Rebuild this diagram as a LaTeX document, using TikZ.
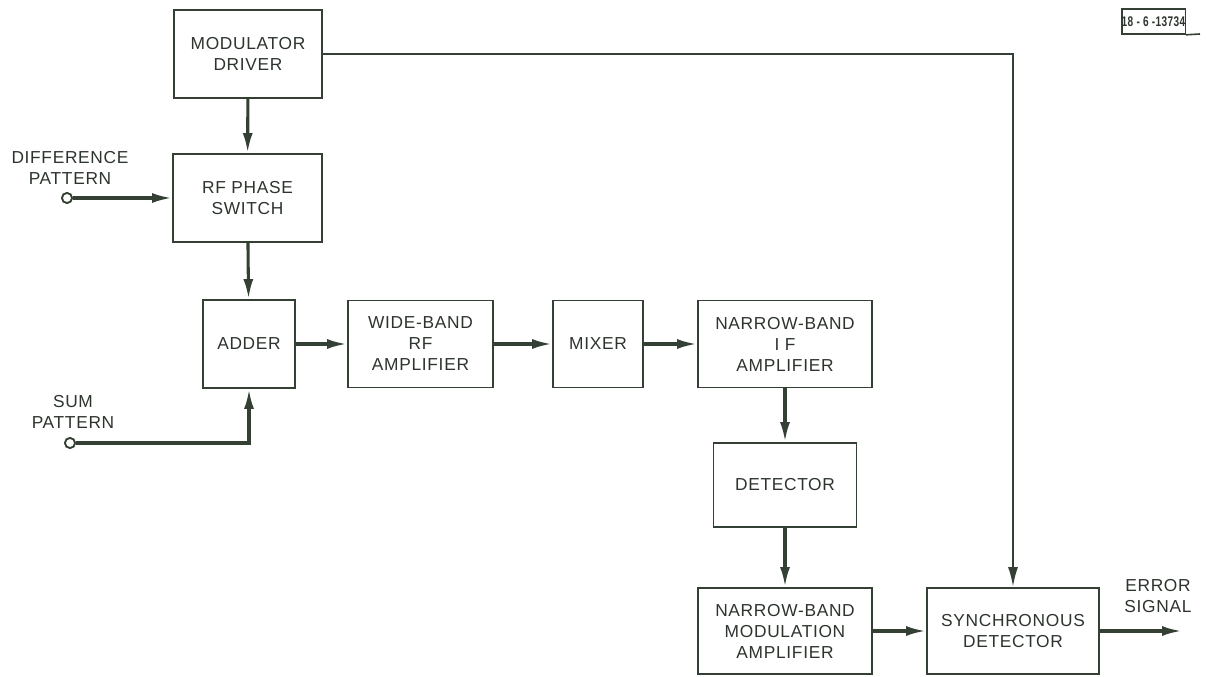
\documentclass[tikz,border=0pt]{standalone}
\usepackage{fontspec}
\setmainfont{Liberation Sans}[LetterSpace=4]
\usetikzlibrary{arrows.meta}
\definecolor{ink}{RGB}{52,64,52}
\definecolor{txt}{RGB}{45,52,45}
\begin{document}
\begin{tikzpicture}[x=0.75pt,y=-0.75pt,
  every node/.style={text=txt, font=\fontsize{13}{15.75}\selectfont, align=center},
  box/.style 2 args={draw=ink, line width=1.4pt, inner sep=0pt,
    minimum width=#1*0.75pt, minimum height=#2*0.75pt},
  conn/.style={draw=ink, line width=2.3pt, -{Latex[length=15pt,width=7.5pt]}},
  thinconn/.style={draw=ink, line width=1.6pt, -{Latex[length=15pt,width=7.5pt]}},
  term/.style={draw=ink, line width=1.3pt, fill=white, circle, inner sep=0pt, minimum size=7.5pt}]
\useasboundingbox (0,0) rectangle (1211,677);

\node[box={148}{88}] (md) at (248,54) {MODULATOR\\DRIVER};
\node[box={149}{88}] (rfps) at (247.5,198) {RF PHASE\\SWITCH};
\node[box={92}{88}] (adder) at (249,344) {ADDER};
\node[box={145}{87}] (wbrf) at (420.5,344) {WIDE-BAND\\RF\\AMPLIFIER};
\node[box={90}{87}] (mixer) at (598,344) {MIXER};
\node[box={174}{87}] (nbif) at (785,344) {NARROW-BAND\\I F\\AMPLIFIER};
\node[box={143}{84}] (det) at (785,485) {DETECTOR};
\node[box={174}{86}] (nbma) at (785,631) {NARROW-BAND\\MODULATION\\AMPLIFIER};
\node[box={172}{86}] (sd) at (1013,631) {SYNCHRONOUS\\DETECTOR};

\node (difflbl) at (70,168) {DIFFERENCE\\PATTERN};
\node (sumlbl) at (73,412) {SUM\\PATTERN};
\node (errlbl) at (1158,596) {ERROR\\SIGNAL};

\node[term] (dterm) at (67,198) {};
\node[term] (sterm) at (70,443) {};
\coordinate (scorner) at (249,443);
\coordinate (mcorner) at (1013,54);
\coordinate (errend) at (1182,631);

\node[draw=ink, line width=1.2pt, minimum width=59*0.75pt, minimum height=25*0.75pt, inner sep=0pt,
  font=\fontsize{10.5}{11}\selectfont\bfseries] (tag) at (1153.5,21.5) {\scalebox{0.72}[1]{18 - 6 -13734}};
\coordinate (tagend) at (1200,34);
\draw[draw=ink, line width=1.2pt] (tag.south east) -- (tagend);

\draw[conn] (md) -- (rfps);
\draw[conn] (rfps) -- (adder);
\draw[conn] (adder) -- (wbrf);
\draw[conn] (wbrf) -- (mixer);
\draw[conn] (mixer) -- (nbif);
\draw[conn] (nbif) -- (det);
\draw[conn] (det) -- (nbma);
\draw[conn] (nbma) -- (sd);
\draw[conn] (sd) -- (errend);
\draw[conn] (dterm) -- (rfps);
\draw[conn] (sterm) -- (scorner) -- (adder);
\draw[thinconn] (md.east) -- (mcorner) -- (sd);
\node[term] at (dterm) {};
\node[term] at (sterm) {};
\end{tikzpicture}
\end{document}
